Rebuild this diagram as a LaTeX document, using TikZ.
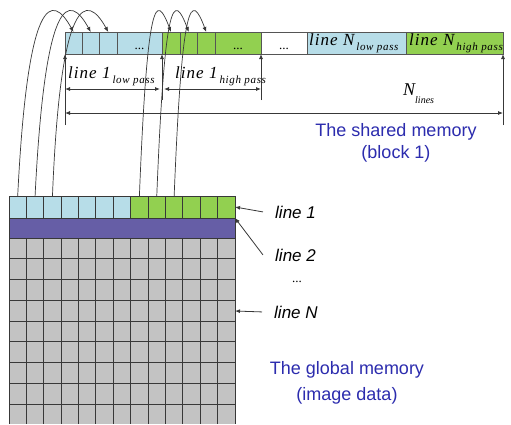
\documentclass[tikz,border=0pt]{standalone}
\usepackage{fontspec}
\setmainfont{Liberation Sans}
\newfontfamily\serifit[LetterSpace=6]{Liberation Serif}
\newfontfamily\serifplain{Liberation Serif}
\usetikzlibrary{arrows.meta}
\definecolor{lblue}{HTML}{B7DDE8}
\definecolor{lgreen}{HTML}{92D050}
\definecolor{purp}{HTML}{665EA6}
\definecolor{gcell}{HTML}{C3C3C3}
\definecolor{txtblue}{HTML}{2C2CAE}
\definecolor{edgec}{HTML}{555555}
\definecolor{gridc}{HTML}{383838}
\newcommand\toplab[2]{{\serifit\itshape\fontsize{17}{17}\selectfont #1\hspace{2pt}\raisebox{-5pt}{\fontsize{11}{11}\selectfont #2}}}
\begin{document}
\begin{tikzpicture}[x=1pt,y=-1pt,
  barcell/.style={draw=edgec, line width=0.8pt, minimum height=22pt, inner sep=0pt, outer sep=0pt, anchor=north west},
  gridcell/.style={draw=gridc, line width=0.9pt, minimum width=17.385pt, minimum height=22pt, inner sep=0pt, outer sep=0pt, anchor=north west},
  dotlbl/.style={inner sep=0pt, font=\serifplain\fontsize{13}{13}\selectfont},
  lbl/.style={inner sep=0pt, anchor=base west},
  rlbl/.style={inner sep=0pt, anchor=base west, font=\fontsize{17}{17}\selectfont\itshape},
  bluetxt/.style={inner sep=0pt, align=center, text=txtblue},
  arr/.style={draw=gridc, line width=0.8pt, -{Latex[length=5pt,width=4pt]}},
  darr/.style={draw=gridc, line width=0.8pt, {Latex[length=5pt,width=4pt]}-{Latex[length=5pt,width=4pt]}},
  curve/.style={draw=gridc, line width=0.7pt, -{Latex[length=5pt,width=4pt]}}]
\useasboundingbox[fill=white] (0,0) rectangle (511,424);
% ---------- shared memory bar ----------
\node[barcell, fill=lblue, minimum width=17pt] (b1) at (65,32) {};
\node[barcell, fill=lblue, minimum width=17.5pt] (b2) at (82,32) {};
\node[barcell, fill=lblue, minimum width=17.5pt] (b3) at (99.5,32) {};
\node[barcell, fill=lblue, minimum width=45pt] (b4) at (117,32) {};
\node[barcell, fill=lgreen, minimum width=18pt] (b5) at (162,32) {};
\node[barcell, fill=lgreen, minimum width=17.5pt] (b6) at (180,32) {};
\node[barcell, fill=lgreen, minimum width=17.5pt] (b7) at (197.5,32) {};
\node[barcell, fill=lgreen, minimum width=46pt] (b8) at (215,32) {};
\node[barcell, fill=white, minimum width=46pt] (b9) at (261,32) {};
\node[barcell, fill=lblue, minimum width=99pt] (b10) at (307,32) {};
\node[barcell, fill=lgreen, minimum width=97pt] (b11) at (406,32) {};
\node[dotlbl] (dt4) at ([yshift=-6pt]b4.center) {...};
\node[dotlbl] (dt8) at ([yshift=-6pt]b8.center) {...};
\node[dotlbl] (dt9) at ([yshift=-6pt]b9.center) {...};
\node[lbl] (lNl) at (309,45) {\toplab{line N}{low pass}};
\node[lbl] (lNh) at (409,45) {\toplab{line N}{high pass}};
% ---------- ticks and dimension arrows ----------
\coordinate (t1) at (65,125);
\coordinate (t2) at (162,100);
\coordinate (t3) at (261,100);
\coordinate (t4) at (503,125);
\draw[arr] (t1) -- (b1.south west);
\draw[arr] (t2) -- (b5.south west);
\draw[arr] (t3) -- (b9.south west);
\draw[arr] (t4) -- (b11.south east);
\coordinate (a1) at (65,89);
\coordinate (a2) at (162,89);
\coordinate (a3) at (261,89);
\coordinate (c1) at (65,113);
\coordinate (c2) at (503,113);
\draw[darr, shorten >=2pt] (a1) -- (a2);
\draw[darr, shorten <=2pt] (a2) -- (a3);
\draw[darr] (c1) -- (c2);
\node[lbl] (l1l) at (68,78) {\toplab{line 1}{low pass}};
\node[lbl] (l1h) at (175,78) {\toplab{line 1}{high pass}};
\node[lbl] (nlin) at (403,95) {{\serifplain\itshape\fontsize{18}{18}\selectfont N\raisebox{-8pt}{\fontsize{10}{10}\selectfont lines}}};
\node[bluetxt, font=\fontsize{18}{22}\selectfont] (shm) at (396,143) {The shared memory\\(block 1)};
% ---------- global memory grid ----------
\foreach \i/\c in {1/lblue,2/lblue,3/lblue,4/lblue,5/lblue,6/lblue,7/lblue,8/lgreen,9/lgreen,10/lgreen,11/lgreen,12/lgreen,13/lgreen}{
  \pgfmathsetmacro\xx{9+(\i-1)*17.385}
  \node[gridcell, fill=\c] (g\i) at (\xx,196) {};
}
\node[draw=gridc, line width=0.9pt, fill=purp, minimum width=226pt, minimum height=20pt, inner sep=0pt, outer sep=0pt, anchor=north west] (pr) at (9,218) {};
\fill[gcell] (9,238) rectangle (235,424);
\foreach \k in {0,...,8}{
  \draw[gridc, line width=0.9pt] (9,238+\k*20.75) -- (235,238+\k*20.75);
}
\foreach \i in {0,...,13}{
  \draw[gridc, line width=0.9pt] (9+\i*17.385,238) -- (9+\i*17.385,424);
}
% ---------- curves from line 1 into shared memory ----------
\draw[curve] (g1.north) .. controls +(10,-201) and +(-22,-40) .. (b1.north);
\draw[curve] (g2.north) .. controls +(10,-201) and +(-22,-40) .. (b2.north);
\draw[curve] (g3.north) .. controls +(8,-201) and +(-22,-40) .. (b3.north);
\draw[curve] (g8.north) .. controls +(8,-200) and +(-15,-40) .. (b5.north);
\draw[curve] (g9.north) .. controls +(8,-200) and +(-15,-40) .. (b6.north);
\draw[curve] (g10.north) .. controls +(8,-200) and +(-15,-40) .. (b7.north);
% ---------- right labels ----------
\node[rlbl] (r1) at (275,218) {line 1};
\node[rlbl] (r2) at (275,261) {line 2};
\node[dotlbl] (rd) at (297,282) {...};
\node[rlbl] (rN) at (274,318) {line N};
\coordinate (gN) at (235,311);
\draw[arr] ([xshift=-12pt]r1.west) -- (g13.east);
\draw[arr] ([xshift=-12pt]r2.west) -- (pr.north east);
\draw[arr] ([xshift=-12pt]rN.west) -- (gN);
\node[bluetxt, font=\fontsize{18}{26}\selectfont] (glm) at (347,383) {The global memory\\(image data)};
\end{tikzpicture}
\end{document}
